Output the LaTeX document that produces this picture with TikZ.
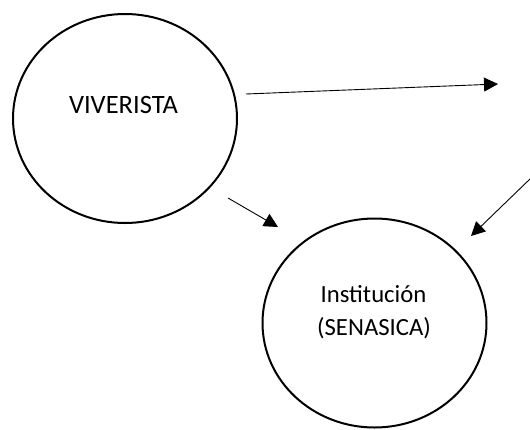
\documentclass[tikz,border=0pt]{standalone}
\usepackage{fontspec}
\setmainfont{Carlito}
\usetikzlibrary{arrows.meta,shapes.geometric}
\tikzset{
  actor/.style={ellipse, draw=black, line width=2pt, inner sep=0pt,
    minimum width=224pt, minimum height=209pt},
  flow/.style={line width=0.9pt, -{Triangle[length=14pt,width=14pt]}},
  bigtext/.style={anchor=base, inner sep=0pt, font=\fontsize{26.5}{32}\selectfont},
  midtext/.style={anchor=base, inner sep=0pt, font=\fontsize{24.7}{33}\selectfont}
}
\begin{document}
\begin{tikzpicture}[x=1pt,y=-1pt]
  \useasboundingbox (0,0) rectangle (530,429);
  % the two actors
  \node[actor] (viv) at (125,118.5) {};
  \node[actor] (inst) at (374.5,323) {};
  \node[bigtext] (vivtxt) at (123.5,113) {VIVERISTA};
  \node[midtext] (insttxt1) at (373.5,302) {Institución};
  \node[midtext] (insttxt2) at (374,335) {(SENASICA)};
  % arrow end points
  \coordinate (a1s) at (246,94);
  \coordinate (a1e) at (498,84);
  \coordinate (a2s) at (228,198);
  \coordinate (a2e) at (278,227);
  \coordinate (a3s) at (531,178);
  \coordinate (a3e) at (471,236);
  \draw[flow] (a1s) -- (a1e);
  \draw[flow] (a2s) -- (a2e);
  \draw[flow] (a3s) -- (a3e);
\end{tikzpicture}
\end{document}
